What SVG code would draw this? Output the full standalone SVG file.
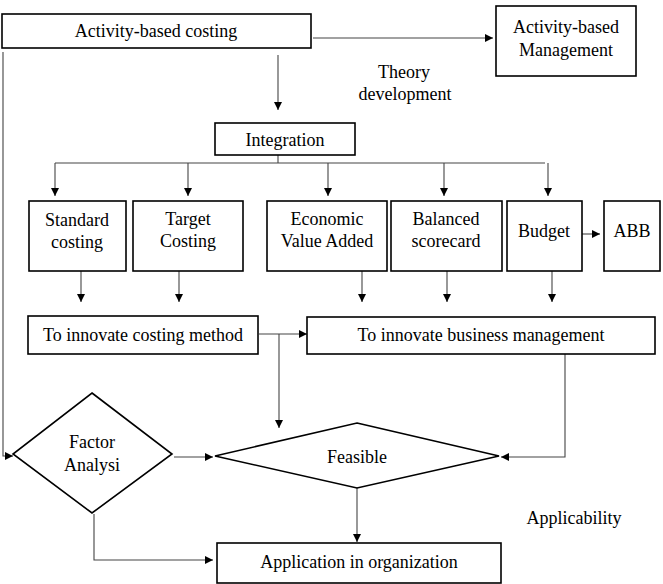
<svg xmlns="http://www.w3.org/2000/svg" width="663" height="584" viewBox="0 0 663 584">
<style>
.box{fill:#fff;stroke:#000;stroke-width:1.6}
.t{font-family:"Liberation Serif","Times New Roman",serif;font-size:18px;fill:#000;text-anchor:middle}
.c{fill:none;stroke:#444;stroke-width:1.1}
</style>
<defs>
<marker id="ah" viewBox="0 0 10 10" refX="10" refY="5" markerWidth="8" markerHeight="8" markerUnits="userSpaceOnUse" orient="auto">
<path d="M0,0 L10,5 L0,10 Z" fill="#000"/>
</marker>
</defs>
<rect width="663" height="584" fill="#fff"/>
<g id="connectors">
<path class="c" d="M313,38 H493" marker-end="url(#ah)"/>
<path class="c" d="M278,55 V110" marker-end="url(#ah)"/>
<path class="c" d="M278,155 V163"/>
<path class="c" d="M55,163 H545"/>
<path class="c" d="M55,163 V196" marker-end="url(#ah)"/>
<path class="c" d="M188,163 V196" marker-end="url(#ah)"/>
<path class="c" d="M328,163 V196" marker-end="url(#ah)"/>
<path class="c" d="M444,163 V196" marker-end="url(#ah)"/>
<path class="c" d="M548,163 V196" marker-end="url(#ah)"/>
<path class="c" d="M582,234 H600" marker-end="url(#ah)"/>
<path class="c" d="M81,271 V302" marker-end="url(#ah)"/>
<path class="c" d="M179,271 V302" marker-end="url(#ah)"/>
<path class="c" d="M362,271 V302" marker-end="url(#ah)"/>
<path class="c" d="M447,271 V302" marker-end="url(#ah)"/>
<path class="c" d="M552,271 V302" marker-end="url(#ah)"/>
<path class="c" d="M259,334 H307" marker-end="url(#ah)"/>
<path class="c" d="M279,334 V428" marker-end="url(#ah)"/>
<path class="c" d="M565,354 V457 H501" marker-end="url(#ah)"/>
<path class="c" d="M3,52 V456 H13" marker-end="url(#ah)" stroke="#888" stroke-width="1.6"/>
<path class="c" d="M174,457 H213" marker-end="url(#ah)"/>
<path class="c" d="M357,488 V542" marker-end="url(#ah)"/>
<path class="c" d="M94,514 V560 H213" marker-end="url(#ah)"/>
</g>
<g id="abc"><rect class="box" x="2" y="14" width="309" height="34"/><text class="t" x="156" y="37">Activity-based costing</text></g>
<g id="abm"><rect class="box" x="496" y="6" width="140" height="70"/><text class="t" x="566" y="33">Activity-based</text><text class="t" x="566" y="56">Management</text></g>
<g id="theory"><text class="t" x="404" y="78">Theory</text><text class="t" x="405" y="100">development</text></g>
<g id="integration"><rect class="box" x="215" y="123" width="140" height="32"/><text class="t" x="285" y="146">Integration</text></g>
<g id="standard"><rect class="box" x="29" y="201" width="97" height="70"/><text class="t" x="77" y="226">Standard</text><text class="t" x="77" y="248">costing</text></g>
<g id="target"><rect class="box" x="133" y="201" width="110" height="70"/><text class="t" x="188" y="225">Target</text><text class="t" x="188" y="247">Costing</text></g>
<g id="eva"><rect class="box" x="267" y="201" width="120" height="70"/><text class="t" x="327" y="225">Economic</text><text class="t" x="327" y="247">Value Added</text></g>
<g id="balanced"><rect class="box" x="391" y="201" width="111" height="70"/><text class="t" x="446" y="225">Balanced</text><text class="t" x="446" y="247">scorecard</text></g>
<g id="budget"><rect class="box" x="507" y="201" width="75" height="70"/><text class="t" x="544" y="237">Budget</text></g>
<g id="abb"><rect class="box" x="604" y="201" width="56" height="70"/><text class="t" x="632" y="237">ABB</text></g>
<g id="costing-method"><rect class="box" x="28" y="316" width="230" height="38"/><text class="t" x="143" y="341">To innovate costing method</text></g>
<g id="business-mgmt"><rect class="box" x="307" y="317" width="348" height="37"/><text class="t" x="481" y="341">To innovate business management</text></g>
<g id="factor"><polygon class="box" points="92,393 172,454 92,513 13,454"/><text class="t" x="92" y="448">Factor</text><text class="t" x="92" y="471">Analysi</text></g>
<g id="feasible"><polygon class="box" points="357,423 499,456 357,488 215,456"/><text class="t" x="357" y="463">Feasible</text></g>
<g id="applicability"><text class="t" x="574" y="524">Applicability</text></g>
<g id="application"><rect class="box" x="217" y="543" width="284" height="40"/><text class="t" x="359" y="568">Application in organization</text></g>
</svg>
